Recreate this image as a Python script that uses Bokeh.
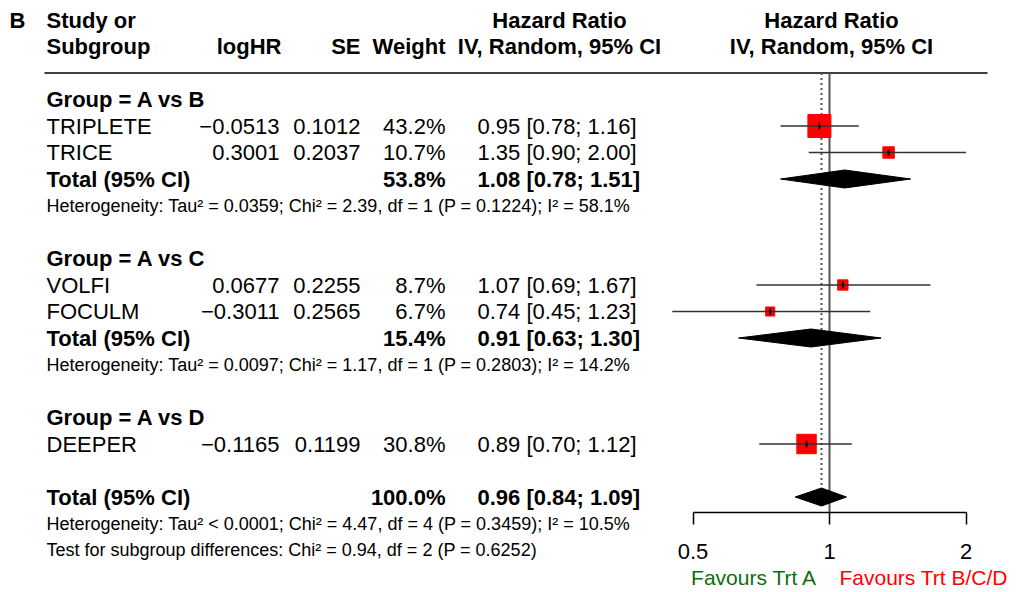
import math
from bokeh.plotting import figure
from bokeh.models import (Range1d, LogScale, LogAxis, FixedTicker,
                          CustomJSTickFormatter, ColumnDataSource)
from bokeh.core.properties import value
from bokeh.embed import file_html
from bokeh.resources import INLINE

# ---------------- data ----------------
groups = ["A vs B", "A vs C", "A vs D"]
studies = ["TRIPLETE", "TRICE", "VOLFI", "FOCULM", "DEEPER"]
study_group = ["A vs B", "A vs B", "A vs C", "A vs C", "A vs D"]
log_hr = [-0.0513, 0.3001, 0.0677, -0.3011, -0.1165]
se = [0.1012, 0.2037, 0.2255, 0.2565, 0.1199]
weight = [43.2, 10.7, 8.7, 6.7, 30.8]
hr = [0.95, 1.35, 1.07, 0.74, 0.89]
hr_lo = [0.78, 0.90, 0.69, 0.45, 0.70]
hr_hi = [1.16, 2.00, 1.67, 1.23, 1.12]

sub_weight = [53.8, 15.4]
sub_hr = [1.08, 0.91]
sub_lo = [0.78, 0.63]
sub_hi = [1.51, 1.30]
sub_het = [
    "Heterogeneity: Tau\u00b2 = 0.0359; Chi\u00b2 = 2.39, df = 1 (P = 0.1224); I\u00b2 = 58.1%",
    "Heterogeneity: Tau\u00b2 = 0.0097; Chi\u00b2 = 1.17, df = 1 (P = 0.2803); I\u00b2 = 14.2%",
]

total_weight = 100.0
total_hr = 0.96
total_lo = 0.84
total_hi = 1.09
total_het = "Heterogeneity: Tau\u00b2 < 0.0001; Chi\u00b2 = 4.47, df = 4 (P = 0.3459); I\u00b2 = 10.5%"
subgroup_test = "Test for subgroup differences: Chi\u00b2 = 0.94, df = 2 (P = 0.6252)"

axis_ticks = [0.5, 1, 2]
label_left = "Favours Trt A"
label_right = "Favours Trt B/C/D"

# ---------------- geometry ----------------
W, H = 1015, 590
ROW0, ROWH = 99.0, 26.5          # pixel y of row 0, row spacing


def row_of(py):
    return (py - ROW0) / ROWH


X1, PX_PER_DOUBLING = 829.0, 136.5


def hr_at(px):
    return 2 ** ((px - X1) / PX_PER_DOUBLING)


FONT = value("Liberation Sans")
BIG = value("22px")
SMALL = value("18px")
LAB = value("21px")

p = figure(width=W, height=H, output_backend="svg", toolbar_location=None,
           x_range=Range1d(0, W), y_range=Range1d(row_of(H), row_of(0)),
           x_axis_location=None, y_axis_location=None, min_border=0,
           outline_line_color=None, background_fill_color="white",
           border_fill_color="white")
p.grid.visible = False
p.extra_x_ranges = {"hr": Range1d(hr_at(0), hr_at(W))}
p.extra_x_scales = {"hr": LogScale()}

# ---------------- row layout ----------------
group_rows, study_rows, sub_rows, het_rows = [], [], [], []
r = 0
for g in groups:
    group_rows.append(r)
    r += 1
    idx = [i for i, s in enumerate(study_group) if s == g]
    for i in idx:
        study_rows.append(r)
        r += 1
    if len(idx) > 1:
        sub_rows.append(r)
        het_rows.append(r + 1)
        r += 2
    r += 1
overall_row = r
overall_het_row = r + 1
test_row = r + 2

AXIS_Y = row_of(512)
DIA_H = 9 / ROWH


def fmt_num(v):
    return f"{v:.4f}".replace("-", "\u2212")


def fmt_ci(e, lo, hi):
    return f"{e:.2f} [{lo:.2f}; {hi:.2f}]"


def txt(xs, ys, texts, align="left", bold=False, size=BIG, color="black"):
    p.text(x=xs, y=ys, text=texts, text_align=align, text_baseline="middle",
           text_font=FONT, text_font_size=size,
           text_font_style="bold" if bold else "normal", text_color=color)


# ---------------- header ----------------
txt([9], [-3], ["B"], bold=True)
txt([46, 46], [-3, -2], ["Study or", "Subgroup"], bold=True)
txt([281, 360, 445], [-2, -2, -2], ["logHR", "SE", "Weight"], align="right", bold=True)
txt([559, 559, 831, 831], [-3, -2, -3, -2],
    ["Hazard Ratio", "IV, Random, 95% CI", "Hazard Ratio", "IV, Random, 95% CI"],
    align="center", bold=True)
p.segment(x0=[44], x1=[987], y0=[-1], y1=[-1], line_color="black", line_width=1.5)

# ---------------- table body ----------------
txt([46] * len(groups), group_rows, [f"Group = {g}" for g in groups], bold=True)
txt([46] * len(studies), study_rows, studies)
txt([279] * len(studies), study_rows, [fmt_num(v) for v in log_hr], align="right")
txt([360] * len(studies), study_rows, [f"{v:.4f}" for v in se], align="right")
txt([445] * len(studies), study_rows, [f"{w:.1f}%" for w in weight], align="right")
txt([477] * len(studies), study_rows,
    [fmt_ci(e, lo, hi) for e, lo, hi in zip(hr, hr_lo, hr_hi)])

tot_rows = sub_rows + [overall_row]
tot_w = sub_weight + [total_weight]
tot_ci = [fmt_ci(e, lo, hi) for e, lo, hi in zip(sub_hr, sub_lo, sub_hi)] + \
    [fmt_ci(total_hr, total_lo, total_hi)]
txt([46] * len(tot_rows), tot_rows, ["Total (95% CI)"] * len(tot_rows), bold=True)
txt([445] * len(tot_rows), tot_rows, [f"{w:.1f}%" for w in tot_w], align="right", bold=True)
txt([477] * len(tot_rows), tot_rows, tot_ci, bold=True)

txt([46] * (len(het_rows) + 2), het_rows + [overall_het_row, test_row],
    sub_het + [total_het, subgroup_test], size=SMALL)

# ---------------- forest ----------------
p.segment(x0=[1], x1=[1], y0=[-1], y1=[AXIS_Y], x_range_name="hr",
          line_color="#555555", line_width=2)
p.segment(x0=[total_hr], x1=[total_hr], y0=[-1], y1=[overall_row - DIA_H],
          x_range_name="hr", line_color="#555555", line_width=2, line_dash="2 3")

src = ColumnDataSource(dict(hr=hr, lo=hr_lo, hi=hr_hi, y=study_rows,
                            y0=[y - 0.13 for y in study_rows],
                            y1=[y + 0.13 for y in study_rows],
                            size=[3.5 * math.sqrt(w) for w in weight]))
p.scatter(x="hr", y="y", size="size", marker="square", source=src,
          x_range_name="hr", fill_color="red", line_color="red")
p.segment(x0="lo", x1="hi", y0="y", y1="y", source=src, x_range_name="hr",
          line_color="#333333", line_width=1.6)
p.segment(x0="hr", x1="hr", y0="y0", y1="y1", source=src, x_range_name="hr",
          line_color="black", line_width=1.8)

d_est = sub_hr + [total_hr]
d_lo = sub_lo + [total_lo]
d_hi = sub_hi + [total_hi]
p.patches(xs=[[lo, e, hi, e] for e, lo, hi in zip(d_est, d_lo, d_hi)],
          ys=[[y, y - DIA_H, y, y + DIA_H] for y in tot_rows],
          x_range_name="hr", fill_color="black", line_color="black")

ax = LogAxis(x_range_name="hr", fixed_location=AXIS_Y, bounds=(0.5, 2),
             ticker=FixedTicker(ticks=axis_ticks),
             formatter=CustomJSTickFormatter(code="return tick.toString();"))
ax.axis_line_color = "black"
ax.axis_line_width = 1.5
ax.major_tick_line_color = "black"
ax.major_tick_line_width = 1.5
ax.major_tick_in = 0
ax.major_tick_out = 12
ax.minor_tick_in = 0
ax.minor_tick_out = 0
ax.major_label_standoff = 19
ax.major_label_text_font = "Liberation Sans"
ax.major_label_text_font_size = "22px"
ax.major_label_text_color = "black"
p.add_layout(ax, "below")

txt([817], [row_of(577)], [label_left], align="right", size=LAB, color="#0b6e0b")
txt([839], [row_of(577)], [label_right], align="left", size=LAB, color="red")

open("out.html", "w").write(file_html(p, INLINE))
